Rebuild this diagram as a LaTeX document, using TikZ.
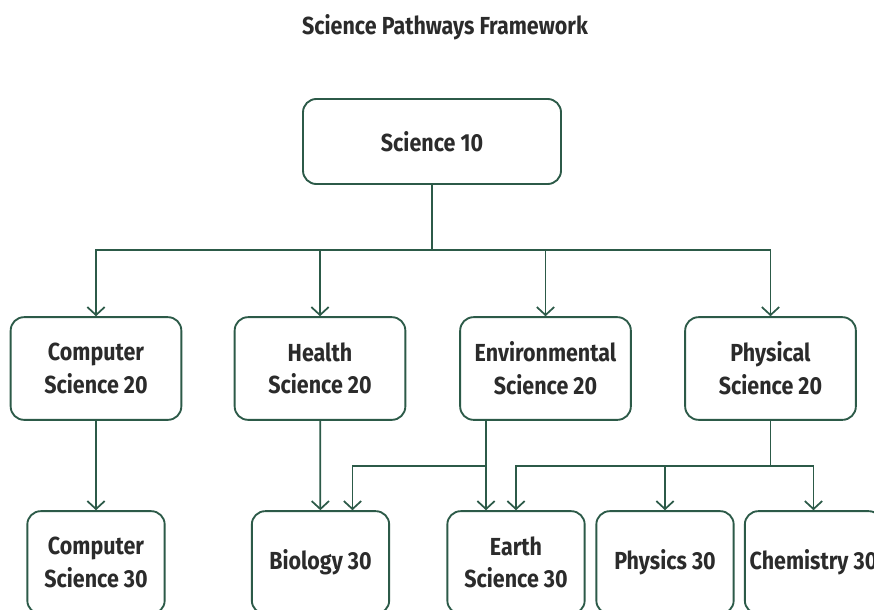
\documentclass[tikz,border=0pt]{standalone}
\usepackage{fontspec}
\setmainfont{Fira Sans}[FakeStretch=0.87]
\usetikzlibrary{arrows.meta}
\definecolor{pathgreen}{HTML}{2C5A48}
\definecolor{pathtext}{HTML}{2B2B2B}

\begin{document}
\begin{tikzpicture}[x=0.75pt, y=-0.75pt,
    course/.style={rectangle, rounded corners=10pt, draw=pathgreen, line width=1.4pt,
      fill=white, align=center, text=pathtext, inner sep=0pt,
      font=\bfseries\fontsize{18.5}{24.5}\selectfont},
    link/.style={draw=pathgreen, line width=1.3pt},
    arrowlink/.style={link, -{Straight Barb[length=6pt, width=13pt, line width=1.3pt]}}]

    \clip (0,0) rectangle (874,610);
    \useasboundingbox (0,0) rectangle (874,610);

    \node[text=pathtext, font=\bfseries\fontsize{18.5}{22}\selectfont] (title) at (445,27) {Science Pathways Framework};

    \node[course, minimum width=193.5pt, minimum height=63.75pt] (sci10) at (432,141.5) {Science 10};

    \node[course, minimum width=128pt, minimum height=77pt] (cs20) at (96,368.5) {Computer\\Science 20};
    \node[course, minimum width=128pt, minimum height=77pt] (hlth20) at (320,368.5) {Health\\Science 20};
    \node[course, minimum width=128pt, minimum height=77pt] (env20) at (545.5,368.5) {Environmental\\Science 20};
    \node[course, minimum width=128pt, minimum height=77pt] (phys20) at (770.5,368.5) {Physical\\Science 20};

    \node[course, minimum width=103pt, minimum height=77pt] (cs30) at (96,562.5) {Computer\\Science 30};
    \node[course, minimum width=103pt, minimum height=77pt] (bio30) at (320.5,562.5) {Biology 30};
    \node[course, minimum width=103pt, minimum height=77pt] (earth30) at (516,562.5) {Earth\\Science 30};
    \node[course, minimum width=103pt, minimum height=77pt] (physics30) at (665,562.5) {Physics 30};
    \node[course, minimum width=103pt, minimum height=77pt] (chem30) at (813.5,562.5) {Chemistry 30};

    \coordinate (split) at (432,250);
    \coordinate (envfoot) at (486,420);
    \coordinate (envjoin) at (486,466);
    \coordinate (physjoin) at (770.5,466);

    % from Science 10
    \draw[link] (sci10) -- (split);
    \draw[arrowlink] (split) -| (cs20.north);
    \draw[arrowlink] (split) -| (hlth20.north);
    \draw[arrowlink] (split) -| (env20.north);
    \draw[arrowlink] (split) -| (phys20.north);

    % 20 level to 30 level
    \draw[arrowlink] (cs20) -- (cs30);
    \draw[arrowlink] (hlth20) -- (bio30);
    \draw[arrowlink] (envfoot) -- (envfoot |- earth30.north);
    \draw[arrowlink] (envjoin) -| ([xshift=24pt]bio30.north);
    \draw[link] (phys20) -- (physjoin);
    \draw[arrowlink] (physjoin) -| (earth30.north);
    \draw[arrowlink] (physjoin) -| (physics30.north);
    \draw[arrowlink] (physjoin) -| (chem30.north);

\end{tikzpicture}
\end{document}
